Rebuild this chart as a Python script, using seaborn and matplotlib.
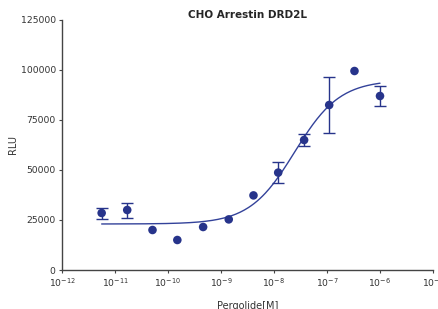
import numpy as np
import pandas as pd
import matplotlib
matplotlib.use('Agg')
import matplotlib.pyplot as plt
import seaborn as sns

# data (3-fold dilutions of pergolide)
conc = [5.6e-12, 1.7e-11, 5.1e-11, 1.5e-10, 4.6e-10, 1.4e-9,
        4.1e-9, 1.2e-8, 3.7e-8, 1.1e-7, 3.3e-7, 1.0e-6]
rlu = [28500, 30000, 20000, 15000, 21500, 25300,
       37300, 48700, 65000, 82500, 99500, 87000]
err = [2750, 3750, np.nan, np.nan, np.nan, np.nan,
       np.nan, 5400, 3000, 13850, np.nan, 4800]

# 4PL fit parameters estimated from the drawn curve
fit_bottom = 23000
fit_top = 95000
fit_log_ec50 = -7.61
fit_hill = 1.02

color = '#27348b'

sns.set_style('ticks')
plt.rcParams['font.family'] = ['DejaVu Sans']

fig = plt.figure(figsize=(4.38, 3.09), dpi=100)
ax = fig.add_axes([62 / 438, 1 - 270 / 309, 371 / 438, 250 / 309])

df = pd.DataFrame({'conc': conc, 'rlu': rlu, 'err': err})

# fitted curve
xs = np.logspace(np.log10(conc[0]), np.log10(conc[-1]), 200)
ys = fit_bottom + (fit_top - fit_bottom) / (1 + 10 ** ((fit_log_ec50 - np.log10(xs)) * fit_hill))
sns.lineplot(x=xs, y=ys, color='#33429a', lw=1.0, ax=ax)

# error bars
eb = df.dropna()
ax.errorbar(eb['conc'], eb['rlu'], yerr=eb['err'], fmt='none', ecolor=color,
            elinewidth=1.0, capsize=4.3, capthick=1.0)

sns.scatterplot(data=df, x='conc', y='rlu', color=color, s=38,
                edgecolor='none', ax=ax, zorder=3)

ax.set_xscale('log')
ax.set_xlim(1e-12, 1e-5)
ax.set_ylim(0, 125000)
ax.set_yticks([0, 25000, 50000, 75000, 100000, 125000])
ax.set_xticks([10.0 ** k for k in range(-12, -4)])
ax.xaxis.set_minor_locator(matplotlib.ticker.NullLocator())

sns.despine(ax=ax)
for sp in ['left', 'bottom']:
    ax.spines[sp].set_color('#444444')
    ax.spines[sp].set_linewidth(1.0)
ax.tick_params(axis='both', labelsize=6.7, colors='#444444', length=2.5,
               width=0.8, pad=2, labelcolor='#333333')

ax.set_xlabel('Pergolide[M]', fontsize=7, color='#333333', labelpad=9)
ax.set_ylabel('RLU', fontsize=7, color='#333333', labelpad=2)
ax.set_title('CHO Arrestin DRD2L', fontsize=7.5, fontweight='bold',
             family=['Liberation Sans Narrow', 'DejaVu Sans'], pad=-2, y=1.02)

fig.savefig('out.png', dpi=100)
